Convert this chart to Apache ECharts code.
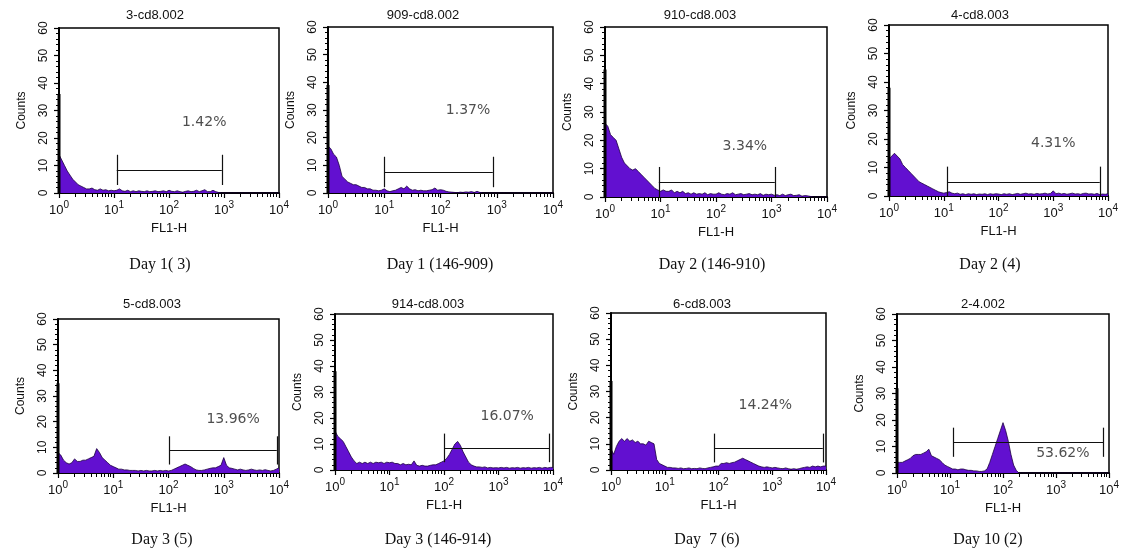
<!DOCTYPE html>
<html><head><meta charset="utf-8">
<script src="https://cdn.jsdelivr.net/npm/echarts@6/dist/echarts.min.js"></script>
<style>html,body{margin:0;padding:0;background:#fff}#c{width:1126px;height:559px}</style>
</head><body><div id="c"></div>
<script>
// FL1-H bin positions, in decades (log10 of FL1-H)
const binExp = [0,0.05,0.1,0.15,0.2,0.25,0.3,0.35,0.4,0.45,
  0.5,0.55,0.6,0.65,0.7,0.75,0.8,0.85,0.9,0.95,
  1,1.05,1.1,1.15,1.2,1.25,1.3,1.35,1.4,1.45,
  1.5,1.55,1.6,1.65,1.7,1.75,1.8,1.85,1.9,1.95,
  2,2.05,2.1,2.15,2.2,2.25,2.3,2.35,2.4,2.45,
  2.5,2.55,2.6,2.65,2.7,2.75,2.8,2.85,2.9,2.95,
  3,3.05,3.1,3.15,3.2,3.25,3.3,3.35,3.4,3.45,
  3.5,3.55,3.6,3.65,3.7,3.75,3.8,3.85,3.9,3.95,4];

const counts_3 = [14,12,10,8,6.5,5,4,3,2.5,2,
  1.5,1.5,1.8,1.2,1,1.5,1,1.2,0.8,1,
  0.8,1,1.5,0.8,0.6,1,0.5,0.8,0.5,0.8,
  0.6,0.5,0.8,0.5,0.6,0.8,0.5,0.6,0.8,0.5,
  1,0.6,0.5,0.8,0.5,0.3,0.6,0.8,0.5,0.6,
  1,0.5,0.8,1.2,0.5,0.5,1,0.5,0.2,0,
  0,0,0,0,0,0,0,0,0,0,
  0,0,0,0,0,0,0,0,0,0,0];
const counts_909 = [17,16,14,13,10,6,5,4,3.5,3,
  3,2.5,2,2,1.5,1.5,1,1,0.8,1,
  1.5,0.8,0.5,0.8,1,1.5,2,1.5,2.5,1.5,
  1,1.2,0.8,1,0.8,0.8,1,1.2,1.8,1,
  1.2,1,0.6,0.4,0.3,0.2,0.1,0.3,0.2,0.4,
  0.3,0.5,0.2,0.6,0.2,0,0,0,0,0,
  0,0,0,0,0,0,0,0,0,0,
  0,0,0,0,0,0,0,0,0,0,0];
const counts_910 = [26,25,22,21,20,17,14,12,11,10,
  9.5,10,9,8,7,6,5,4,3,2.5,
  2,2.5,2,2,2.5,1.5,2,1.5,2,1.2,
  1.5,1,1.5,1,1.2,1,1.5,0.8,1.2,1,
  1,1.5,1,0.8,1.2,1,1.5,0.8,1,1.2,
  0.8,1,1.2,0.8,1,0.8,1.2,0.6,1,0.8,
  1,0.6,0.8,0.5,1,0.5,0.8,1,0.5,0.6,
  0.8,0.3,0.5,0.4,0.2,0,0,0,0,0,0];
const counts_4 = [13,14,15,14,13,11,10,9,8,7,
  6,5,4.5,4,3.5,3,2.5,2,1.5,1.2,
  1,1.2,1.5,1,0.8,1,0.6,0.8,0.5,0.8,
  0.6,0.8,0.5,0.7,0.6,0.8,0.5,0.8,0.6,0.8,
  0.7,0.5,0.8,0.6,0.8,0.5,0.7,0.9,0.6,0.8,
  1,0.7,0.8,0.6,0.9,0.7,0.8,1,0.7,0.9,
  1.8,0.8,1,0.7,0.9,0.6,0.8,1,0.7,0.8,
  0.6,0.9,1,0.7,0.8,0.6,0.9,0.5,0.7,0.6,0.8];
const counts_5 = [8,7,5,4,3.5,4,5.5,4.5,4.5,5,
  5,5.5,6,6.5,9.5,8,6,5,4,3,
  2.5,2,1.5,1.5,1.2,1.2,1,1,1,0.8,
  1,0.8,1,0.8,0.8,1,0.8,1,0.8,1,
  0.8,1,1.5,2,2.5,3,3.5,3,2.5,1.8,
  1.2,1,1,1.2,1.5,1.8,2,2,2.5,3,
  6,3,2,1.8,1.5,1.2,1.5,1.2,1,1.2,
  1.5,1.2,1,1.2,1,1.3,1,0.8,1,1.5,2];
const counts_914 = [15,13,12,11,9,7,5,3.5,2.5,3,
  2.5,3,2.5,3,2.5,3,2.8,3,2.5,3,
  2.8,3,2.5,2.5,2,2.5,2,2.2,2,3.5,
  1.8,1.5,1.8,1.5,1.5,1.8,2,2,2.5,3,
  3.5,4.5,6,8,10,11,9.5,7,5,3,
  2,1.5,1.2,1.2,1,1.2,0.8,1,0.8,0.9,
  0.8,1,0.8,1,0.7,0.9,0.8,1,0.7,0.9,
  0.8,1,0.7,0.9,0.8,1,0.7,1,0.8,1,1];
const counts_6 = [8,6,9,11,12,11,12,11,11.5,10.5,
  11,10,10,9.5,11,10.5,10,4,2.5,2,
  1.5,1,1,0.8,0.8,0.6,0.8,0.5,0.6,0.8,
  0.5,0.6,0.5,0.8,0.6,0.5,0.8,1,1.2,1.5,
  1.5,2.5,2.5,2.8,2.5,2.8,3,3.5,4,4.5,
  4,3.5,3,2.5,2,1.5,1.2,1,1.2,1,
  0.8,1,0.8,0.6,0.5,0.8,0.5,0.3,0.5,0.3,
  0.5,0.8,1,1.2,1,1.5,1.2,1.5,1.2,1.5,1.5];
const counts_2 = [4,4,4,4.5,5,5.5,6.5,7,7,7,
  7.5,8,9,6.5,6,5.5,5,4,3,2.5,
  2,1.5,1.5,1.2,1.5,1.5,1.2,1,1,0.8,
  0.8,0.6,0.6,0.8,1.5,4,7,10,13,16,
  19,16,12,7,3,1,0,0,0,0,
  0,0,0,0,0,0,0,0,0,0,
  0,0,0,0,0,0,0,0,0,0,
  0,0,0,0,0,0,0,0,0,0,0];

// counts in the first channel (10^0), drawn as the spike on the left edge
const firstChannel = [36, 39, 45, 38, 35, 38, 34, 32];

const sampleNames = ['3-cd8.002','909-cd8.002','910-cd8.003','4-cd8.003','5-cd8.003','914-cd8.003','6-cd8.003','2-4.002'];
const captions = ['Day 1( 3)','Day 1 (146-909)','Day 2 (146-910)','Day 2 (4)','Day 3 (5)','Day 3 (146-914)','Day  7 (6)','Day 10 (2)'];
const pctLabels = ['1.42%','1.37%','3.34%','4.31%','13.96%','16.07%','14.24%','53.62%'];
const gateStart = [1.05, 1.0, 0.97, 1.06, 2.02, 2.0, 1.92, 1.06];
const gateEnd = [2.96, 2.93, 3.06, 3.85, 3.96, 3.94, 3.94, 3.89];
const gateLevel = [8.4, 7.6, 5.1, 4.8, 8.8, 8.5, 8.4, 11.6];
const pctX = [2.64, 2.49, 2.52, 3.0, 3.17, 3.16, 2.87, 3.13];
const pctY = [25.6, 30, 18, 18.6, 20.8, 20.5, 24.8, 7.5];
const yTicks = [0, 60, 10];   // min, max, step
const xDecades = [0, 4];

const panels = [counts_3, counts_909, counts_910, counts_4, counts_5, counts_914, counts_6, counts_2];

// layout (pixels)
const gLeft = [59, 328, 605, 889, 58, 335, 611, 897];
const gTop = [28, 27, 27, 25, 319, 314, 313, 314];
const gWidth = [220, 225, 222, 219, 221, 218, 215, 212];
const gHeight = [165, 166, 170, 171, 154, 156, 157, 159];
const titleX = [155, 423, 700, 980, 152, 428, 702, 983];
const titleY = [15, 15, 15, 15, 304, 304, 304, 304];
const capX = [160, 440, 712, 990, 162, 438, 707, 988];
const capY = [265, 265, 265, 265, 540, 540, 540, 540];

const minorExp = [];
for (let d = xDecades[0]; d < xDecades[1]; d++) for (let k = 2; k <= 9; k++) minorExp.push(d + Math.log10(k));

const FONT = 'Liberation Sans, Arial, sans-serif';
const FILL = '#6210d0';

const option = {animation: false, backgroundColor: '#fff', grid: [], xAxis: [], yAxis: [], series: [], graphic: []};

panels.forEach((counts, i) => {
  option.grid.push({left: gLeft[i], top: gTop[i], width: gWidth[i], height: gHeight[i],
    show: true, borderColor: '#000', borderWidth: 1.5, backgroundColor: 'transparent'});
  option.xAxis.push({
    gridIndex: i, type: 'value', min: xDecades[0], max: xDecades[1], interval: 1,
    name: 'FL1-H', nameLocation: 'middle', nameGap: 29,
    nameTextStyle: {fontFamily: FONT, fontSize: 13, color: '#111'},
    axisLine: {show: true, onZero: false, lineStyle: {color: '#000', width: 2}},
    axisTick: {show: true, length: 5, lineStyle: {color: '#000', width: 1.2}},
    axisLabel: {margin: 7, color: '#111', formatter: v => '{b|10}{s|' + v + '}',
      rich: {b: {fontFamily: FONT, fontSize: 13, color: '#111'},
             s: {fontFamily: FONT, fontSize: 10, color: '#111', padding: [0, 0, 10, 0]}}},
    splitLine: {show: false}
  });
  option.xAxis.push({
    gridIndex: i, type: 'value', min: xDecades[0], max: xDecades[1], position: 'bottom',
    axisLine: {show: false}, axisLabel: {show: false}, splitLine: {show: false},
    axisTick: {show: true, customValues: minorExp, length: 4, lineStyle: {color: '#000', width: 1}}
  });
  option.yAxis.push({
    gridIndex: i, type: 'value', min: yTicks[0], max: yTicks[1], interval: yTicks[2],
    name: 'Counts', nameLocation: 'middle', nameGap: 31,
    nameTextStyle: {fontFamily: FONT, fontSize: 12, color: '#111'},
    axisLine: {show: true, onZero: false, lineStyle: {color: '#000', width: 2}},
    axisTick: {show: true, length: 5, lineStyle: {color: '#000', width: 1.2}},
    minorTick: {show: true, splitNumber: 5, length: 3, lineStyle: {color: '#000', width: 1}},
    axisLabel: {rotate: 90, margin: 9, fontFamily: FONT, fontSize: 12, color: '#111'},
    splitLine: {show: false}
  });

  const s = gateStart[i], e = gateEnd[i], y = gateLevel[i];
  option.series.push({
    type: 'line', xAxisIndex: 2 * i, yAxisIndex: i,
    data: binExp.map((x, k) => [x, counts[k]]),
    showSymbol: false, symbol: 'none', smooth: false,
    lineStyle: {color: '#1c0040', width: 0.8},
    areaStyle: {color: FILL, opacity: 1},
    z: 2,
    markLine: {
      silent: true, symbol: ['none', 'none'], label: {show: false},
      lineStyle: {color: '#111', width: 1.2, type: 'solid'},
      emphasis: {disabled: true},
      data: [
        [{coord: [s, Math.max(0, y - 5.5)]}, {coord: [s, y + 5.5]}],
        [{coord: [s, y]}, {coord: [e, y]}],
        [{coord: [e, Math.max(0, y - 5.5)]}, {coord: [e, y + 5.5]}]
      ]
    }
  });
  option.series.push({
    type: 'line', xAxisIndex: 2 * i, yAxisIndex: i,
    data: [[0, 0], [0, firstChannel[i]]], showSymbol: false, symbol: 'none',
    lineStyle: {color: '#000', width: 3}, z: 3
  });
  option.series.push({
    type: 'scatter', xAxisIndex: 2 * i, yAxisIndex: i,
    data: [[pctX[i], pctY[i]]], symbolSize: 1, itemStyle: {color: 'rgba(0,0,0,0)'},
    label: {show: true, position: 'inside', formatter: pctLabels[i],
      fontFamily: 'DejaVu Sans, sans-serif', fontSize: 14, color: '#222'},
    z: 4
  });

  option.graphic.push({type: 'text', x: titleX[i], y: titleY[i], silent: true,
    style: {text: sampleNames[i], textAlign: 'center', textVerticalAlign: 'middle',
      font: '13px ' + FONT, fill: '#111'}});
  option.graphic.push({type: 'text', x: capX[i], y: capY[i], silent: true,
    style: {text: captions[i], textAlign: 'center', textVerticalAlign: 'middle',
      font: '16px Liberation Serif, Times New Roman, serif', fill: '#111'}});
});

const chart = echarts.init(document.getElementById('c'), null, {renderer: 'canvas'});
chart.setOption(option);
</script>
</body></html>
